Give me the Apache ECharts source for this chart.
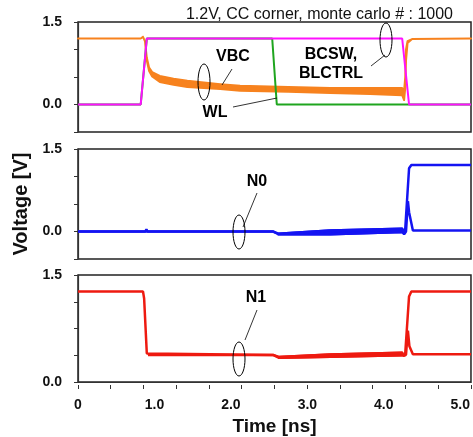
<!DOCTYPE html>
<html>
<head>
<meta charset="utf-8">
<script src="https://cdn.jsdelivr.net/npm/echarts@6/dist/echarts.min.js"></script>
<style>
html, body { margin: 0; padding: 0; background: #fff; }
#chart { width: 473px; height: 437px; }
</style>
</head>
<body>
<div id="chart"></div>
<script>
// time in ns, voltage in V
var wlTime = [0, 0.82, 0.90, 2.54, 2.60, 5.14];
var wlVolt = [0, 0, 1.2, 1.2, 0, 0];

var bcswTime = [0, 0.82, 0.90, 4.24, 4.33, 5.14];
var bcswVolt = [0, 0, 1.2, 1.2, 0, 0];

// VBC monte carlo spread: upper and lower edge
var vbcTime = [0, 0.82, 0.85, 0.876, 0.90, 0.93, 0.97, 1.07, 1.25, 1.43, 1.86, 2.12, 2.75, 3.30, 3.82, 4.24, 4.265, 4.28, 4.29, 4.31, 4.37, 5.14];
var vbcHigh = [1.2, 1.2, 1.23, 1.15, 0.85, 0.67, 0.59, 0.52, 0.47, 0.43, 0.37, 0.34, 0.32, 0.30, 0.30, 0.30, 0.25, 0.5, 1.0, 1.15, 1.19, 1.2];
var vbcLow = [1.2, 1.2, 1.23, 1.15, 0.80, 0.61, 0.51, 0.41, 0.36, 0.32, 0.28, 0.25, 0.23, 0.21, 0.19, 0.17, 0.08, 0.3, 0.8, 1.12, 1.19, 1.2];

var n0UpTime = [0, 0.88, 0.895, 0.91, 2.55, 2.62, 3.30, 4.24, 4.265, 4.28, 4.33, 4.36, 5.14];
var n0UpVolt = [0, 0, 0.04, 0, 0, -0.04, 0.02, 0.05, -0.02, 0.05, 1.15, 1.21, 1.21];
var n0DnTime = [0, 2.55, 2.62, 3.30, 4.24, 4.265, 4.29, 4.315, 4.33, 4.38, 5.14];
var n0DnVolt = [0, 0, -0.05, -0.05, -0.01, -0.05, 0.0, 0.55, 0.35, 0.02, 0.02];
// spread between the two N0 traces
var n0BandTime = [2.62, 3.30, 4.24];
var n0BandHigh = [-0.04, 0.02, 0.05];
var n0BandLow = [-0.05, -0.05, -0.01];

var n1UpTime = [0, 0.85, 0.865, 0.90, 0.915, 2.55, 2.63, 3.30, 4.24, 4.265, 4.28, 4.33, 4.36, 5.14];
var n1UpVolt = [1.27, 1.27, 1.17, 0.40, 0.38, 0.38, 0.35, 0.385, 0.41, 0.36, 0.40, 1.2, 1.27, 1.27];
var n1DnTime = [0.915, 2.55, 2.63, 3.30, 4.24, 4.265, 4.29, 4.315, 4.335, 4.38, 5.14];
var n1DnVolt = [0.38, 0.38, 0.34, 0.355, 0.375, 0.35, 0.38, 0.72, 0.5, 0.39, 0.39];
var n1BandTime = [2.63, 3.30, 4.24];
var n1BandHigh = [0.35, 0.385, 0.41];
var n1BandLow = [0.34, 0.355, 0.375];

var xTicks = [0, 1, 2, 3, 4, 5];

function pairs(t, v) {
	var out = [];
	for (var i = 0; i < t.length; i++) out.push([t[i], v[i]]);
	return out;
}

var FONT = 'Liberation Sans, Arial, sans-serif';
var chart = echarts.init(document.getElementById('chart'));

function yLabel(v) {
	if (Math.abs(v - 1.5) < 1e-6) return '1.5';
	if (Math.abs(v) < 1e-6) return '0.0';
	return '';
}
function yAxisFor(idx, min, interval, extra) {
	var ax = {
		type : 'value',
		gridIndex : idx,
		min : min,
		max : 1.5,
		interval : interval,
		offset : 2,
		axisLine : { show : true, lineStyle : { color : '#333', width : 1.2 } },
		axisTick : { show : true, length : 4, lineStyle : { color : '#333' } },
		axisLabel : { formatter : yLabel, margin : 14, color : '#111', fontWeight : 'bold', fontSize : 14, fontFamily : FONT },
		splitLine : { show : false }
	};
	for (var k in extra) ax[k] = extra[k];
	return ax;
}
function hiddenX(idx) {
	return { type : 'value', gridIndex : idx, min : 0, max : 5.14, show : false };
}
var gridBase = { left : 78, width : 393, show : true, borderColor : '#222', borderWidth : 1.5, backgroundColor : '#fff' };
function grid(top, h) {
	var g = {};
	for (var k in gridBase) g[k] = gridBase[k];
	g.top = top;
	g.height = h;
	return g;
}
function line(name, data, color, width, xi, yi) {
	return {
		name : name,
		type : 'line',
		data : data,
		xAxisIndex : xi,
		yAxisIndex : yi,
		symbol : 'none',
		lineStyle : { color : color, width : width },
		itemStyle : { color : color }
	};
}
// filled band between an upper and a lower edge
function band(name, t, hi, lo, color, lw, xi, yi) {
	return {
		name : name,
		type : 'custom',
		xAxisIndex : xi,
		yAxisIndex : yi,
		data : [0],
		renderItem : function(params, api) {
			var pts = [];
			for (var i = 0; i < t.length; i++) pts.push(api.coord([t[i], hi[i]]));
			for (var j = t.length - 1; j >= 0; j--) pts.push(api.coord([t[j], lo[j]]));
			return {
				type : 'polygon',
				shape : { points : pts },
				style : { fill : color, stroke : color, lineWidth : lw, lineJoin : 'round' }
			};
		}
	};
}

var orange = '#F7821E', magenta = '#FF10FF', green = '#1FA51F', blue = '#1414F2', red = '#EE1A10';

var option = {
	backgroundColor : '#fff',
	animation : false,
	title : {
		text : '1.2V, CC corner, monte carlo # : 1000',
		right : 15,
		top : 2,
		textStyle : { fontSize : 16, fontWeight : 'normal', color : '#111', fontFamily : FONT }
	},
	grid : [ grid(22, 110), grid(149, 110), grid(275, 111) ],
	xAxis : [
		hiddenX(0),
		hiddenX(1),
		{
			type : 'value', gridIndex : 2, min : 0, max : 5.14, interval : 1, offset : 3, position : 'bottom',
			name : 'Time [ns]', nameLocation : 'middle', nameGap : 32,
			nameTextStyle : { fontSize : 19, fontWeight : 'bold', color : '#111', fontFamily : FONT },
			axisLine : { show : true, lineStyle : { color : '#333', width : 1.2 } },
			axisTick : { show : false },
			axisLabel : {
				margin : 13, color : '#111', fontWeight : 'bold', fontSize : 14, fontFamily : FONT,
				showMaxLabel : false,
				formatter : function(v) {
					if (xTicks.indexOf(v) < 0) return '';
					return v === 0 ? '0' : v.toFixed(1);
				}
			},
			splitLine : { show : false }
		},
		// minor ticks along the time axis (12 divisions)
		{
			type : 'value', gridIndex : 2, min : 0, max : 12, interval : 1, offset : 3, position : 'bottom',
			axisLine : { show : false },
			axisTick : { show : true, length : 4, lineStyle : { color : '#333' } },
			axisLabel : { show : false },
			splitLine : { show : false }
		}
	],
	yAxis : [
		yAxisFor(0, -0.5, 0.5, {}),
		yAxisFor(1, -0.5, 0.5, {
			name : 'Voltage [V]', nameLocation : 'middle', nameGap : 27, nameRotate : 90,
			nameTextStyle : { fontSize : 20, fontWeight : 'bold', color : '#111', fontFamily : FONT }
		}),
		yAxisFor(2, 0, 0.375, {})
	],
	series : [
		line('WL', pairs(wlTime, wlVolt), green, 2, 0, 0),
		line('BCSW, BLCTRL', pairs(bcswTime, bcswVolt), magenta, 2, 0, 0),
		band('VBC', vbcTime, vbcHigh, vbcLow, orange, 2, 0, 0),
		band('N0 spread', n0BandTime, n0BandHigh, n0BandLow, blue, 2.5, 1, 1),
		line('N0', pairs(n0DnTime, n0DnVolt), blue, 2.5, 1, 1),
		line('N0 high', pairs(n0UpTime, n0UpVolt), blue, 2.5, 1, 1),
		band('N1 spread', n1BandTime, n1BandHigh, n1BandLow, red, 2.5, 2, 2),
		line('N1', pairs(n1DnTime, n1DnVolt), red, 2.5, 2, 2),
		line('N1 high', pairs(n1UpTime, n1UpVolt), red, 2.5, 2, 2)
	],
	graphic : [
		{ type : 'ellipse', shape : { cx : 204, cy : 82, rx : 6, ry : 18 }, style : { fill : 'none', stroke : '#000', lineWidth : 1 }, z : 100 },
		{ type : 'line', shape : { x1 : 222, y1 : 85, x2 : 232, y2 : 69 }, style : { stroke : '#000', lineWidth : 0.8 }, z : 100 },
		{ type : 'text', x : 233, y : 57, style : { text : 'VBC', font : 'bold 16px ' + FONT, fill : '#000', align : 'center', verticalAlign : 'middle' }, z : 100 },
		{ type : 'line', shape : { x1 : 233, y1 : 107, x2 : 277, y2 : 98 }, style : { stroke : '#000', lineWidth : 0.8 }, z : 100 },
		{ type : 'text', x : 215, y : 113, style : { text : 'WL', font : 'bold 16px ' + FONT, fill : '#000', align : 'center', verticalAlign : 'middle' }, z : 100 },
		{ type : 'ellipse', shape : { cx : 386, cy : 40, rx : 6, ry : 17 }, style : { fill : 'none', stroke : '#000', lineWidth : 1 }, z : 100 },
		{ type : 'line', shape : { x1 : 371, y1 : 66, x2 : 385, y2 : 55 }, style : { stroke : '#000', lineWidth : 0.8 }, z : 100 },
		{ type : 'text', x : 331, y : 55, style : { text : 'BCSW,', font : 'bold 16px ' + FONT, fill : '#000', align : 'center', verticalAlign : 'middle' }, z : 100 },
		{ type : 'text', x : 331, y : 74, style : { text : 'BLCTRL', font : 'bold 16px ' + FONT, fill : '#000', align : 'center', verticalAlign : 'middle' }, z : 100 },
		{ type : 'ellipse', shape : { cx : 239, cy : 232, rx : 6, ry : 17 }, style : { fill : 'none', stroke : '#000', lineWidth : 1 }, z : 100 },
		{ type : 'line', shape : { x1 : 243, y1 : 227, x2 : 257, y2 : 193 }, style : { stroke : '#000', lineWidth : 0.8 }, z : 100 },
		{ type : 'text', x : 257, y : 182, style : { text : 'N0', font : 'bold 16px ' + FONT, fill : '#000', align : 'center', verticalAlign : 'middle' }, z : 100 },
		{ type : 'ellipse', shape : { cx : 239, cy : 359, rx : 6, ry : 17 }, style : { fill : 'none', stroke : '#000', lineWidth : 1 }, z : 100 },
		{ type : 'line', shape : { x1 : 245, y1 : 340, x2 : 257, y2 : 310 }, style : { stroke : '#000', lineWidth : 0.8 }, z : 100 },
		{ type : 'text', x : 256, y : 298, style : { text : 'N1', font : 'bold 16px ' + FONT, fill : '#000', align : 'center', verticalAlign : 'middle' }, z : 100 }
	]
};

chart.setOption(option);
</script>
</body>
</html>
